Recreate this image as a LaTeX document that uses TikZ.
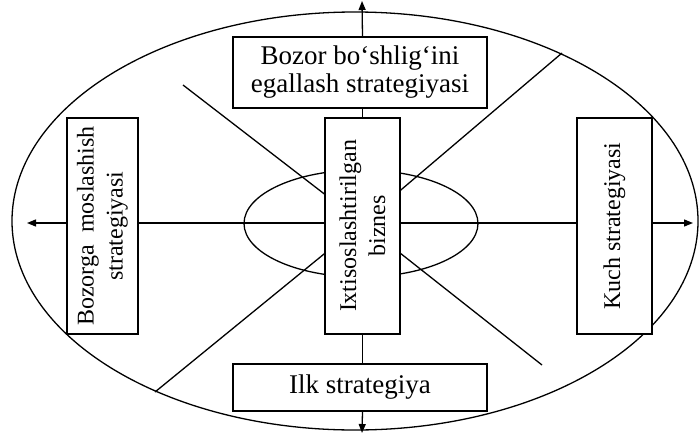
\documentclass[tikz,border=0pt]{standalone}
\usepackage{fontspec}
\setmainfont{Liberation Serif}
\usetikzlibrary{arrows.meta}
\begin{document}
\begin{tikzpicture}[x=1pt,y=-1pt,line width=1.3pt,
  txt/.style={align=center,inner sep=0pt,font=\fontsize{27}{28}\selectfont},
  vtxt/.style={align=center,inner sep=0pt,rotate=90,font=\fontsize{24}{29}\selectfont},
  box/.style={txt,draw,fill=white,line width=1.5pt},
  arr/.style={-{Triangle[length=9pt,width=7pt]}}]
\useasboundingbox (0,0) rectangle (700,434);
% outer ellipse
\draw[line width=1.3pt] (355,221) ellipse [x radius=343, y radius=209];
% crossing lines
\coordinate (c) at (362,223);
\coordinate (ul) at (183,85);
\coordinate (ur) at (562,53);
\coordinate (ll) at (155,392);
\coordinate (lr) at (542,365);
\draw (ul) -- (c) -- (lr);
\draw (ur) -- (c) -- (ll);
% inner ellipse
\draw[line width=1.3pt] (361,223.5) ellipse [x radius=117, y radius=53.5];
% boxes
\node[box,minimum width=254,minimum height=71] (top) at (360,72.5) {Bozor bo‘shlig‘ini\\egallash strategiyasi};
\node[box,minimum width=254,minimum height=47] (bot) at (360,387.5) {Ilk strategiya};
\node[box,minimum width=75,minimum height=216] (mid) at (362.5,226) {};
\node[vtxt] (midt) at (mid.center) {Ixtisoslashtirilgan\\biznes};
\node[box,minimum width=71,minimum height=216] (lft) at (102.5,226) {};
\node[vtxt] (lftt) at (lft.center) {Bozorga\ \ moslashish\\strategiyasi};
\node[box,minimum width=75,minimum height=216] (rgt) at (614.5,226) {};
\node[vtxt] (rgtt) at (rgt.center) {Kuch strategiyasi};
% connectors
\coordinate (atop) at (362,1);
\coordinate (abot) at (362,433);
\coordinate (alft) at (27,223);
\coordinate (argt) at (693,223);
\draw (top.south -| mid.north) -- (mid.north);
\draw (mid.south) -- (mid.south |- bot.north);
\draw[arr] (top.north -| mid.north) -- (atop);
\draw[arr] (bot.south -| mid.south) -- (abot);
\draw (lft.east |- c) -- (mid.west |- c);
\draw (mid.east |- c) -- (rgt.west |- c);
\draw[arr] (lft.west |- c) -- (alft);
\draw[arr] (rgt.east |- c) -- (argt);
\end{tikzpicture}
\end{document}
